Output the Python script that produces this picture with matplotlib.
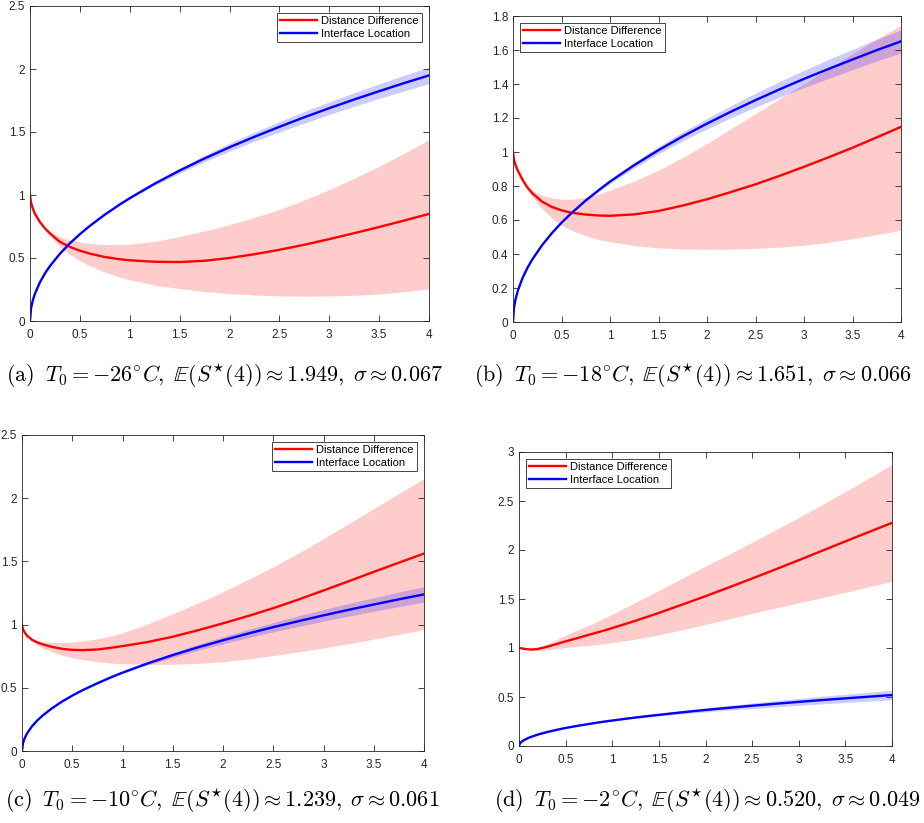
import numpy as np
import matplotlib
matplotlib.use('Agg')
import matplotlib.pyplot as plt
from matplotlib.ticker import FormatStrFormatter

plt.rcParams['mathtext.fontset'] = 'cm'
plt.rcParams['font.family'] = ['Liberation Sans', 'DejaVu Sans']

# time grid shared by all four panels
t = [0, 0.01, 0.025, 0.05, 0.1, 0.15, 0.2, 0.3, 0.4, 0.5, 0.6, 0.75, 0.9, 1,
     1.25, 1.5, 1.75, 2, 2.25, 2.5, 2.75, 3, 3.25, 3.5, 3.75, 4]

# (a) T0 = -26
red_mean_a  = [1.0, 0.94, 0.90, 0.85, 0.785, 0.735, 0.695, 0.628, 0.588, 0.558, 0.535, 0.508, 0.49, 0.482,
               0.47, 0.468, 0.478, 0.5, 0.53, 0.565, 0.605, 0.65, 0.697, 0.746, 0.797, 0.85]
red_upper_a = [1.0, 0.94, 0.90, 0.852, 0.79, 0.748, 0.713, 0.668, 0.643, 0.627, 0.615, 0.607, 0.607, 0.61,
               0.632, 0.67, 0.715, 0.765, 0.822, 0.885, 0.96, 1.043, 1.132, 1.228, 1.33, 1.44]
red_lower_a = [1.0, 0.94, 0.90, 0.848, 0.778, 0.724, 0.678, 0.59, 0.528, 0.478, 0.438, 0.388, 0.348, 0.327,
               0.285, 0.257, 0.234, 0.217, 0.206, 0.199, 0.197, 0.198, 0.204, 0.215, 0.232, 0.255]
blue_mean_a = [0, 0.098, 0.154, 0.218, 0.308, 0.378, 0.436, 0.534, 0.617, 0.689, 0.755, 0.844, 0.925, 0.975,
               1.09, 1.194, 1.29, 1.379, 1.462, 1.541, 1.617, 1.689, 1.758, 1.824, 1.888, 1.949]
blue_half_a = [0, 0, 0, 0, 0, 0, 0, 0, 0, 0, 0, 0.003, 0.005, 0.007,
               0.013, 0.02, 0.026, 0.031, 0.036, 0.041, 0.046, 0.05, 0.054, 0.058, 0.062, 0.065]

# (b) T0 = -18
red_mean_b  = [1.0, 0.955, 0.925, 0.89, 0.835, 0.79, 0.757, 0.708, 0.677, 0.657, 0.643, 0.632, 0.626, 0.625,
               0.633, 0.653, 0.685, 0.722, 0.765, 0.81, 0.86, 0.913, 0.968, 1.025, 1.086, 1.148]
red_upper_b = [1.0, 0.955, 0.928, 0.895, 0.843, 0.803, 0.775, 0.745, 0.73, 0.723, 0.722, 0.732, 0.757, 0.775,
               0.83, 0.893, 0.968, 1.05, 1.138, 1.226, 1.313, 1.40, 1.49, 1.578, 1.663, 1.745]
red_lower_b = [1.0, 0.955, 0.922, 0.885, 0.827, 0.777, 0.735, 0.667, 0.612, 0.57, 0.54, 0.507, 0.483, 0.472,
               0.45, 0.436, 0.429, 0.427, 0.428, 0.433, 0.441, 0.452, 0.469, 0.49, 0.514, 0.54]
blue_mean_b = [0, 0.083, 0.131, 0.185, 0.261, 0.32, 0.369, 0.452, 0.522, 0.584, 0.639, 0.715, 0.783, 0.826,
               0.923, 1.011, 1.092, 1.167, 1.238, 1.305, 1.369, 1.43, 1.488, 1.544, 1.599, 1.651]
blue_half_b = [0, 0, 0, 0, 0, 0, 0, 0, 0, 0.002, 0.003, 0.006, 0.009, 0.011,
               0.016, 0.021, 0.026, 0.031, 0.036, 0.041, 0.046, 0.051, 0.056, 0.06, 0.064, 0.068]

# (c) T0 = -10
red_mean_c  = [1.0, 0.962, 0.94, 0.912, 0.88, 0.86, 0.845, 0.823, 0.808, 0.80, 0.798, 0.803, 0.818, 0.83,
               0.862, 0.904, 0.955, 1.01, 1.068, 1.13, 1.198, 1.27, 1.343, 1.417, 1.49, 1.562]
red_upper_c = [1.0, 0.962, 0.942, 0.918, 0.89, 0.875, 0.866, 0.858, 0.857, 0.862, 0.87, 0.888, 0.913, 0.935,
               1.005, 1.085, 1.17, 1.26, 1.357, 1.457, 1.565, 1.68, 1.798, 1.918, 2.037, 2.155]
red_lower_c = [1.0, 0.96, 0.935, 0.905, 0.868, 0.84, 0.818, 0.783, 0.758, 0.738, 0.723, 0.706, 0.695, 0.69,
               0.685, 0.686, 0.693, 0.707, 0.728, 0.755, 0.784, 0.815, 0.849, 0.885, 0.922, 0.96]
blue_mean_c = [0, 0.062, 0.098, 0.139, 0.196, 0.24, 0.277, 0.339, 0.392, 0.438, 0.48, 0.536, 0.588, 0.62,
               0.693, 0.759, 0.82, 0.876, 0.929, 0.98, 1.027, 1.073, 1.117, 1.159, 1.2, 1.239]
blue_half_c = [0, 0, 0, 0, 0, 0, 0, 0, 0, 0, 0, 0.003, 0.005, 0.007,
               0.012, 0.018, 0.023, 0.028, 0.033, 0.037, 0.042, 0.046, 0.05, 0.054, 0.058, 0.061]

# (d) T0 = -2
red_mean_d  = [1.0, 1.0, 0.997, 0.992, 0.986, 0.985, 0.99, 1.012, 1.04, 1.068, 1.094, 1.135, 1.175, 1.203,
               1.278, 1.358, 1.443, 1.529, 1.618, 1.709, 1.802, 1.896, 1.992, 2.088, 2.183, 2.277]
red_upper_d = [1.0, 1.0, 0.998, 0.995, 0.992, 0.996, 1.006, 1.04, 1.085, 1.13, 1.175, 1.232, 1.298, 1.345,
               1.465, 1.588, 1.712, 1.835, 1.955, 2.08, 2.205, 2.332, 2.462, 2.597, 2.733, 2.871]
red_lower_d = [1.0, 0.999, 0.995, 0.99, 0.982, 0.978, 0.978, 0.983, 0.993, 1.005, 1.014, 1.027, 1.042, 1.055,
               1.09, 1.135, 1.185, 1.24, 1.297, 1.353, 1.408, 1.46, 1.513, 1.568, 1.624, 1.68]
blue_mean_d = [0, 0.026, 0.041, 0.058, 0.082, 0.1, 0.116, 0.142, 0.164, 0.184, 0.201, 0.225, 0.247, 0.26,
               0.291, 0.318, 0.344, 0.368, 0.39, 0.411, 0.431, 0.45, 0.469, 0.486, 0.503, 0.52]
blue_half_d = [0, 0, 0, 0, 0, 0, 0, 0, 0, 0, 0, 0.002, 0.004, 0.005,
               0.008, 0.012, 0.016, 0.02, 0.024, 0.028, 0.032, 0.035, 0.039, 0.042, 0.046, 0.049]

captions = [
    r'$\mathrm{(a)}\;\; T_0 = -26^{\circ}C,\; \mathbb{E}(S^{\star}(4)) \approx 1.949,\; \sigma \approx 0.067$',
    r'$\mathrm{(b)}\;\; T_0 = -18^{\circ}C,\; \mathbb{E}(S^{\star}(4)) \approx 1.651,\; \sigma \approx 0.066$',
    r'$\mathrm{(c)}\;\; T_0 = -10^{\circ}C,\; \mathbb{E}(S^{\star}(4)) \approx 1.239,\; \sigma \approx 0.061$',
    r'$\mathrm{(d)}\;\; T_0 = -2^{\circ}C,\; \mathbb{E}(S^{\star}(4)) \approx 0.520,\; \sigma \approx 0.049$',
]

W, H = 924, 823


def px_axes(fig, left, top, right, bottom):
    return fig.add_axes([left / W, 1 - bottom / H, (right - left) / W, (bottom - top) / H])


def draw_panel(ax, red_mean, red_up, red_lo, blue_mean, blue_half, ymax, ystep, legend_loc):
    tt = np.array(t)
    bm = np.array(blue_mean)
    bh = np.array(blue_half)
    ax.fill_between(tt, red_lo, red_up, color=(1, 0, 0), alpha=0.2, linewidth=0)
    ax.fill_between(tt, bm - bh, bm + bh, color=(0, 0, 1), alpha=0.2, linewidth=0)
    ax.plot(tt, red_mean, color='#ff0000', lw=1.7, label='Distance Difference')
    ax.plot(tt, bm, color='#0000ff', lw=1.7, label='Interface Location')
    ax.set_xlim(0, 4)
    ax.set_ylim(0, ymax)
    ax.set_xticks(np.arange(0, 4.01, 0.5))
    ax.set_yticks(np.arange(0, ymax + 1e-9, ystep))
    ax.xaxis.set_major_formatter(FormatStrFormatter('%g'))
    ax.yaxis.set_major_formatter(FormatStrFormatter('%g'))
    ax.tick_params(direction='in', top=True, right=True, length=4, width=0.6,
                   labelsize=8.5, colors='#262626')
    ax.tick_params(axis='x', pad=6)
    ax.tick_params(axis='y', pad=3.5)
    for s in ax.spines.values():
        s.set_color('#262626')
        s.set_linewidth(0.6)
    leg = ax.legend(loc=legend_loc, fontsize=8, fancybox=False, framealpha=1,
                    edgecolor='#262626', handlelength=3.3, borderpad=0.3,
                    labelspacing=0.25, handletextpad=0.4, borderaxespad=0.6)
    leg.get_frame().set_linewidth(0.6)


fig = plt.figure(figsize=(W / 100, H / 100), dpi=100)

ax_a = px_axes(fig, 30, 6, 429, 321)
draw_panel(ax_a, red_mean_a, red_upper_a, red_lower_a, blue_mean_a, blue_half_a, 2.5, 0.5, 'upper right')
ax_b = px_axes(fig, 513, 16, 901, 322)
draw_panel(ax_b, red_mean_b, red_upper_b, red_lower_b, blue_mean_b, blue_half_b, 1.8, 0.2, 'upper left')
ax_c = px_axes(fig, 22, 435, 424, 751)
draw_panel(ax_c, red_mean_c, red_upper_c, red_lower_c, blue_mean_c, blue_half_c, 2.5, 0.5, 'upper right')
ax_d = px_axes(fig, 519, 452, 892, 746)
draw_panel(ax_d, red_mean_d, red_upper_d, red_lower_d, blue_mean_d, blue_half_d, 3.0, 0.5, 'upper left')

cap_pos = [(225, 376), (693, 376), (222, 801), (707, 801)]
for (cx, cy), txt in zip(cap_pos, captions):
    fig.text(cx / W, 1 - cy / H, txt, ha='center', va='center', fontsize=16, color='black')

fig.savefig('out.png', dpi=100)
